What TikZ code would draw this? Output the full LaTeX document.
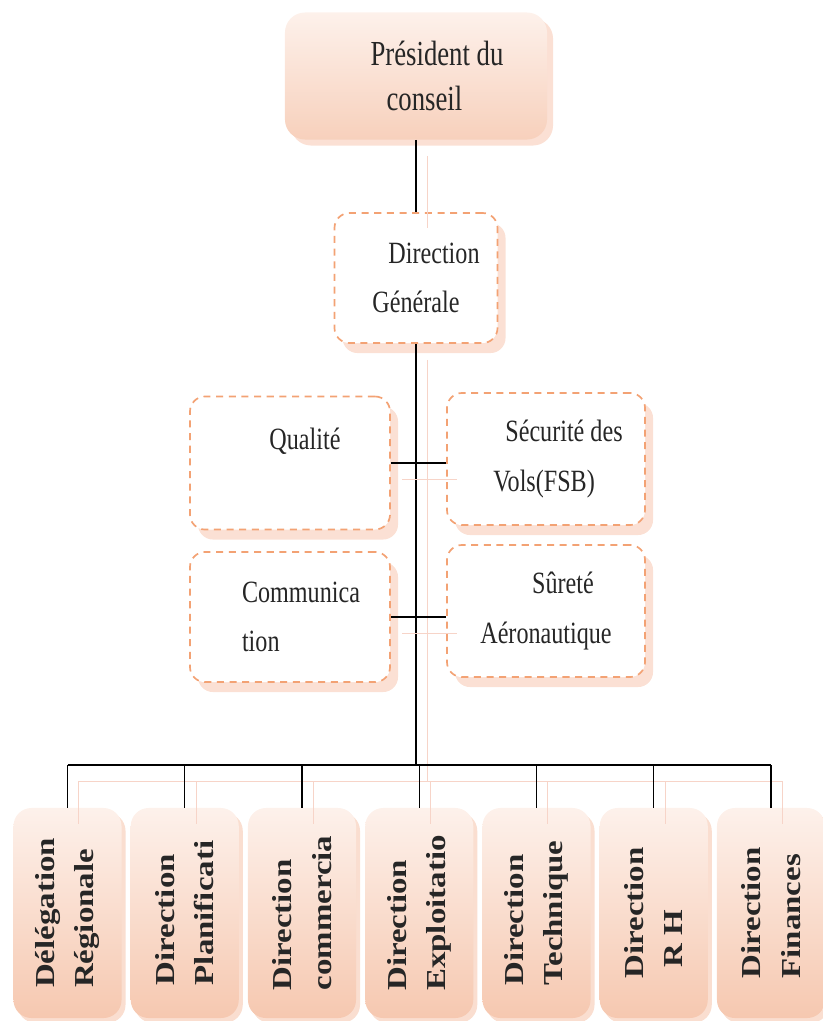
\documentclass[tikz,border=0pt]{standalone}
\usepackage{fontspec}
\setmainfont{Liberation Serif}
\newfontfamily\presfont[FakeStretch=0.76]{Liberation Serif}
\newfontfamily\boxfont[FakeStretch=0.78]{Liberation Serif}
\newfontfamily\rowfont[FakeStretch=1.2]{Liberation Serif}
\usetikzlibrary{shadows}

\definecolor{peachlight}{HTML}{FDF1EB}
\definecolor{peachdark}{HTML}{F6C8B0}
\definecolor{dashorange}{HTML}{F3A274}
\definecolor{shadowpink}{HTML}{FBE0D4}
\definecolor{linkpink}{HTML}{F7D4C8}
\definecolor{inkgray}{HTML}{262626}

\begin{document}
\begin{tikzpicture}[x=0.025cm, y=-0.025cm,
	headbox/.style={rounded corners=0.5cm, top color=peachlight, bottom color=peachdark!85,
		minimum width=6.55cm, minimum height=3.175cm, align=left, text=inkgray,
		font=\presfont\fontsize{25}{32}\selectfont,
		drop shadow={shadow xshift=0.15cm, shadow yshift=-0.15cm, fill=shadowpink, opacity=1}},
	dashbox/.style={draw=dashorange, line width=1.2pt, dash pattern=on 5pt off 4pt,
		rounded corners=0.375cm, fill=white, align=left, text=inkgray,
		font=\boxfont\fontsize{22}{35}\selectfont,
		drop shadow={shadow xshift=0.2cm, shadow yshift=-0.25cm, fill=shadowpink, opacity=1}},
	rowbox/.style={rotate=90, rounded corners=0.45cm, top color=peachlight, bottom color=peachdark,
		minimum width=5.25cm, minimum height=2.7cm, align=left, text=inkgray,
		font=\rowfont\bfseries\fontsize{19.5}{28}\selectfont,
		drop shadow={shadow xshift=0.1cm, shadow yshift=-0.12cm, fill=peachdark, opacity=.6}},
	link/.style={line width=0.8pt, preaction={draw=linkpink, line width=0.6pt,
		transform canvas={shift={(0.28cm,-0.4cm)}}}}]
	\useasboundingbox (0,0) rectangle (823,1021);

	\node[headbox] (pres) at (416,76) {\hspace*{1.05cm}Président du\\\hspace*{1.45cm}conseil};
	\node[dashbox, minimum width=4.075cm, minimum height=3.25cm] (dg) at (416,278) {\hspace*{0.9cm}Direction\\\hspace*{0.5cm}Générale};

	\node[dashbox, minimum width=5cm, minimum height=3.325cm] (qual) at (290,463) {\hspace*{0.75cm}Qualité\\~};
	\node[dashbox, minimum width=4.95cm, minimum height=3.3cm] (secu) at (546,459) {\hspace*{0.9cm}Sécurité des\\\hspace*{0.6cm}Vols(FSB)};
	\node[dashbox, minimum width=5cm, minimum height=3.25cm] (comm) at (290,617) {\hspace*{0.55cm}Communica\\\hspace*{0.55cm}tion};
	\node[dashbox, minimum width=4.95cm, minimum height=3.3cm, align=center] (sure) at (546,611) {\hspace*{0.85cm}Sûreté\\Aéronautique};

	\node[rowbox] (d1) at (67.5,913) {Délégation\\Régionale};
	\node[rowbox] (d2) at (184.75,913) {Direction\\Planificati};
	\node[rowbox] (d3) at (302,913) {Direction\\commercia};
	\node[rowbox] (d4) at (419.25,913) {Direction\\Exploitatio};
	\node[rowbox] (d5) at (536.5,913) {Direction\\Technique};
	\node[rowbox] (d6) at (653.75,913) {Direction\\\hspace*{0.4em}R H};
	\node[rowbox] (d7) at (771,913) {Direction\\Finances};

	\coordinate (bus) at (416,765);
	\draw[link] (pres) -- (dg);
	\draw[link] (dg) -- (bus);
	\draw[link] (qual.east) -- (qual.east -| secu.west);
	\draw[link] (comm.east) -- (comm.east -| sure.west);
	\draw[link] (bus -| d1) -- (bus -| d7);
	\draw[link] (bus -| d1) -- (d1);
	\draw[link] (bus -| d2) -- (d2);
	\draw[link] (bus -| d3) -- (d3);
	\draw[link] (bus -| d4) -- (d4);
	\draw[link] (bus -| d5) -- (d5);
	\draw[link] (bus -| d6) -- (d6);
	\draw[link] (bus -| d7) -- (d7);
\end{tikzpicture}
\end{document}
